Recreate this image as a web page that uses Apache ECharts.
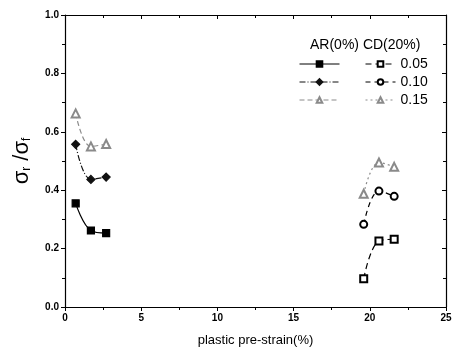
<!DOCTYPE html>
<html>
<head>
<meta charset="utf-8">
<script src="https://cdn.jsdelivr.net/npm/echarts@6/dist/echarts.min.js"></script>
<style>
  html, body { margin: 0; padding: 0; background: #fff; }
  #chart { width: 456px; height: 353px; }
</style>
</head>
<body>
<div id="chart"></div>
<script>
// as-received (AR 0%) and cold-drawn (CD 20%) samples
const arStrain = [0.7, 1.7, 2.7];
const ar005 = [0.355, 0.262, 0.253];
const ar010 = [0.557, 0.437, 0.445];
const ar015 = [0.663, 0.55, 0.558];

const cdStrain = [19.6, 20.6, 21.6];
const cd005 = [0.097, 0.226, 0.232];
const cd010 = [0.283, 0.397, 0.379];
const cd015 = [0.388, 0.495, 0.48];

const levels = ['0.05', '0.10', '0.15'];

const FONT = 'Liberation Sans, Arial, sans-serif';

function pairs(xs, ys) {
  return xs.map(function (x, i) {
    return [x, ys[i]];
  });
}

function mkSeries(name, xs, ys, symbol, color, lineType, size) {
  return {
    name: name,
    type: 'line',
    smooth: 0.4,
    data: pairs(xs, ys),
    symbol: symbol,
    symbolSize: size,
    lineStyle: { color: color, width: 1.2, type: lineType },
    itemStyle: { color: color, borderColor: color, borderWidth: 1.2 }
  };
}

const chart = echarts.init(document.getElementById('chart'), null, { renderer: 'canvas' });

const axisCommon = {
  axisLine: { show: true, onZero: false, lineStyle: { color: '#000', width: 1.2 } },
  splitLine: { show: false }
};

const legendText = { fontFamily: FONT, fontSize: 14, color: '#000', lineHeight: 10 };

chart.setOption({
  animation: false,
  backgroundColor: '#fff',
  textStyle: { fontFamily: FONT },
  title: {
    text: 'AR(0%) CD(20%)',
    left: 305,
    top: 33,
    textStyle: { fontFamily: FONT, fontSize: 14, fontWeight: 'normal', color: '#000' }
  },
  legend: [
    {
      data: ['AR 0.05', 'AR 0.10', 'AR 0.15'],
      orient: 'vertical',
      left: 294,
      top: 52,
      padding: 5,
      itemWidth: 40,
      itemHeight: 7,
      itemGap: 4,
      lineStyle: { width: 1 },
      formatter: function () { return ' '; },
      textStyle: legendText
    },
    {
      data: levels,
      orient: 'vertical',
      left: 360,
      top: 52,
      padding: 5,
      itemWidth: 30,
      itemHeight: 7,
      itemGap: 4,
      lineStyle: { width: 1 },
      textStyle: legendText
    }
  ],
  grid: { left: 65, right: 10, top: 15, bottom: 46 },
  xAxis: [
    Object.assign({}, axisCommon, {
      type: 'value',
      min: 0,
      max: 25,
      interval: 5,
      name: 'plastic pre-strain(%)',
      nameLocation: 'middle',
      nameGap: 27,
      nameTextStyle: { fontFamily: FONT, fontSize: 13, color: '#000' },
      axisTick: { show: true, length: 4, lineStyle: { color: '#000' } },
      minorTick: { show: true, splitNumber: 2, length: 3, lineStyle: { color: '#000' } },
      axisLabel: { fontFamily: FONT, fontSize: 10, fontWeight: 'bold', color: '#000', margin: 6 }
    }),
    Object.assign({}, axisCommon, {
      type: 'value',
      position: 'top',
      min: 0,
      max: 25,
      interval: 5,
      axisTick: { show: true, inside: true, length: 4, lineStyle: { color: '#000' } },
      minorTick: { show: true, splitNumber: 2, length: 3, lineStyle: { color: '#000' } },
      axisLabel: { show: false }
    })
  ],
  yAxis: [
    Object.assign({}, axisCommon, {
      type: 'value',
      min: 0,
      max: 1,
      interval: 0.2,
      name: '{a|σ}{s|r}{a| /σ}{s|f}',
      nameLocation: 'middle',
      nameRotate: 90,
      nameGap: 32,
      nameTextStyle: {
        rich: {
          a: { fontFamily: FONT, fontSize: 22, color: '#000' },
          s: { fontFamily: FONT, fontSize: 12, color: '#000', padding: [10, 0, 0, 0] }
        }
      },
      axisTick: { show: true, length: 4, lineStyle: { color: '#000' } },
      minorTick: { show: true, splitNumber: 2, length: 3, lineStyle: { color: '#000' } },
      axisLabel: {
        fontFamily: FONT, fontSize: 10, fontWeight: 'bold', color: '#000', margin: 6,
        formatter: function (v) { return v.toFixed(1); }
      }
    }),
    Object.assign({}, axisCommon, {
      type: 'value',
      position: 'right',
      min: 0,
      max: 1,
      interval: 0.2,
      axisTick: { show: true, inside: true, length: 4, lineStyle: { color: '#000' } },
      minorTick: { show: true, splitNumber: 2, length: 3, lineStyle: { color: '#000' } },
      axisLabel: { show: false }
    })
  ],
  series: [
    mkSeries('AR 0.05', arStrain, ar005, 'rect', '#000', 'solid', 7),
    mkSeries('AR 0.10', arStrain, ar010, 'diamond', '#111', [6, 2, 1, 2], 8),
    mkSeries('AR 0.15', arStrain, ar015, 'emptyTriangle', '#8a8a8a', [5, 3], 8),
    mkSeries(levels[0], cdStrain, cd005, 'emptyRect', '#000', [6, 4], 7),
    mkSeries(levels[1], cdStrain, cd010, 'emptyCircle', '#000', [5, 4], 7),
    mkSeries(levels[2], cdStrain, cd015, 'emptyTriangle', '#8a8a8a', [2, 3], 8)
  ]
});
</script>
</body>
</html>
